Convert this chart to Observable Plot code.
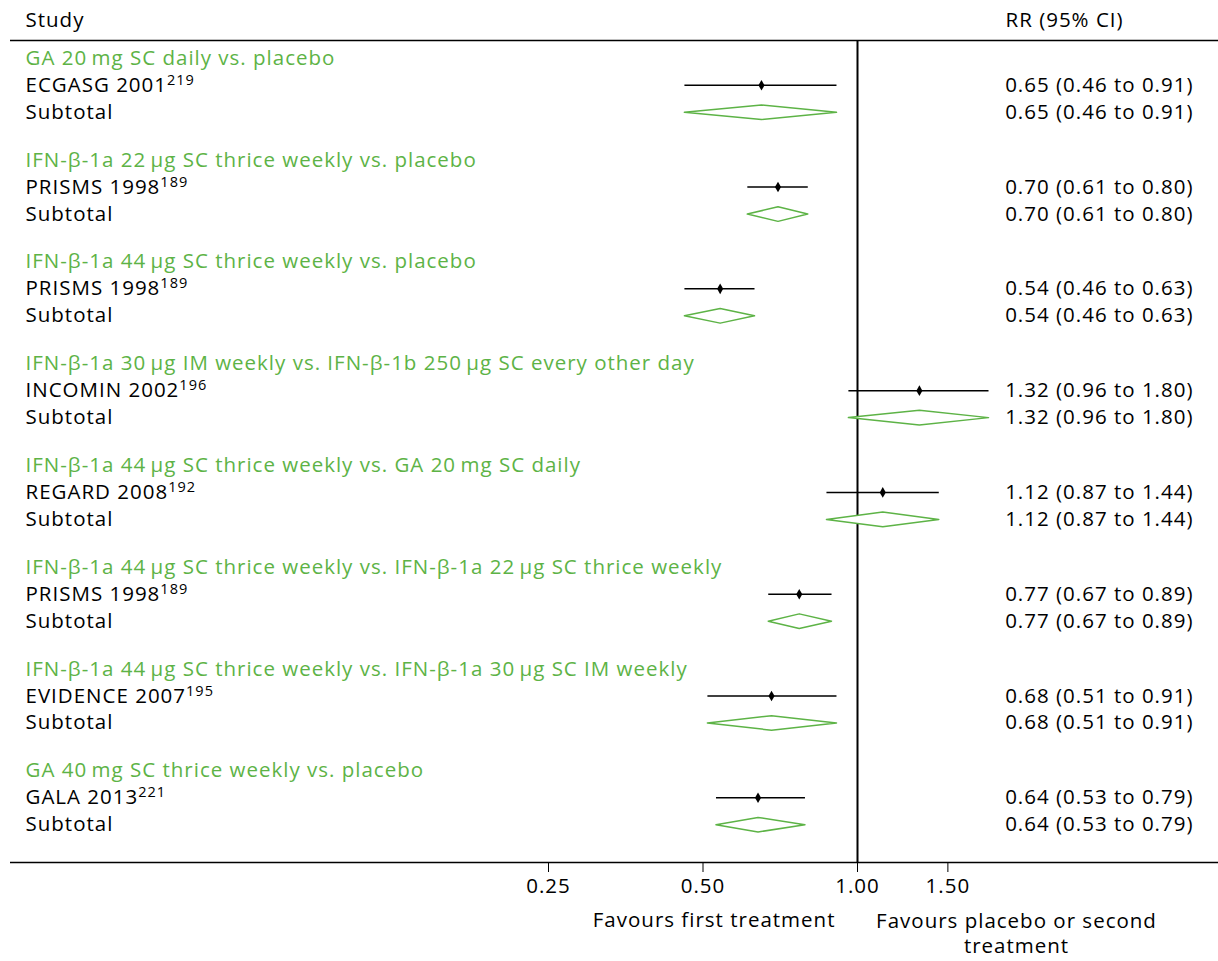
<!DOCTYPE html>
<html><head><meta charset="utf-8">
<script src="https://cdn.jsdelivr.net/npm/d3@7"></script>
<script src="https://cdn.jsdelivr.net/npm/@observablehq/plot@0.6"></script>
<style>
body{margin:0;background:#fff}
#chart svg{display:block}
</style>
</head><body><div id="chart"></div>
<script>
const comparisons = [
  "GA 20\u2009mg SC daily vs. placebo",
  "IFN-\u03b2-1a 22\u2009\u00b5g SC thrice weekly vs. placebo",
  "IFN-\u03b2-1a 44\u2009\u00b5g SC thrice weekly vs. placebo",
  "IFN-\u03b2-1a 30\u2009\u00b5g IM weekly vs. IFN-\u03b2-1b 250\u2009\u00b5g SC every other day",
  "IFN-\u03b2-1a 44\u2009\u00b5g SC thrice weekly vs. GA 20\u2009mg SC daily",
  "IFN-\u03b2-1a 44\u2009\u00b5g SC thrice weekly vs. IFN-\u03b2-1a 22\u2009\u00b5g SC thrice weekly",
  "IFN-\u03b2-1a 44\u2009\u00b5g SC thrice weekly vs. IFN-\u03b2-1a 30\u2009\u00b5g SC IM weekly",
  "GA 40\u2009mg SC thrice weekly vs. placebo"
];
const studies = ["ECGASG 2001","PRISMS 1998","PRISMS 1998","INCOMIN 2002","REGARD 2008","PRISMS 1998","EVIDENCE 2007","GALA 2013"];
const refs = ["219","189","189","196","192","189","195","221"];
const rr = [0.65,0.70,0.54,1.32,1.12,0.77,0.68,0.64];
const lower = [0.46,0.61,0.46,0.96,0.87,0.67,0.51,0.53];
const upper = [0.91,0.80,0.63,1.80,1.44,0.89,0.91,0.79];
const xTicks = [0.25,0.50,1.00,1.50];

const GREEN = "#5db346";
const FONT = "'Open Sans', sans-serif";
const FS = 20.5;

// Row layout (row units)
const PERIOD = 3.77;
const yTop = -0.66, yBottom = 29.79;

const labelRows = comparisons.map((c, g) => ({text: c, y: g * PERIOD}));
const studyRows = studies.map((s, g) => ({text: s + "^" + refs[g], y: g * PERIOD + 1, rr: rr[g], lo: lower[g], hi: upper[g]}));
const subRows = studies.map((s, g) => ({text: "Subtotal", y: g * PERIOD + 2, rr: rr[g], lo: lower[g], hi: upper[g]}));
const fmt = d3.format(".2f");
const ciText = d => `${fmt(d.rr)} (${fmt(d.lo)} to ${fmt(d.hi)})`;

const H = 0.27;
const diamonds = subRows.flatMap((d, g) => [
  {g, x: d.lo, y: d.y}, {g, x: d.rr, y: d.y - H}, {g, x: d.hi, y: d.y},
  {g, x: d.rr, y: d.y + H}, {g, x: d.lo, y: d.y}
]);

const plot = Plot.plot({
  width: 1218, height: 961,
  marginTop: 40, marginBottom: 99, marginLeft: 10, marginRight: 0,
  style: {fontFamily: FONT, fontSize: FS + "px", letterSpacing: "1px", color: "#000", background: "#fff"},
  x: {type: "log", domain: [0.25, 2], range: [548, 1011.5], ticks: xTicks, tickFormat: fmt, tickSize: 10, tickPadding: 6, label: null},
  y: {domain: [yTop, yBottom], range: [40, 862], axis: null},
  marks: [
    Plot.ruleY([yTop, yBottom], {stroke: "#000", strokeWidth: 1.5}),
    Plot.ruleX([1], {stroke: "#000", strokeWidth: 2}),
    Plot.link(studyRows, {x1: "lo", x2: "hi", y1: "y", y2: "y", stroke: "#000", strokeWidth: 1.5}),
    Plot.dot(studyRows, {x: "rr", y: "y", symbol: "diamond", r: 3.2, fill: "#000"}),
    Plot.line(diamonds, {x: "x", y: "y", z: "g", stroke: GREEN, strokeWidth: 1.5, fill: "#fff"}),
    Plot.text(labelRows, {y: "y", text: "text", frameAnchor: "left", dx: 15, textAnchor: "start", fill: GREEN}),
    Plot.text(studyRows, {y: "y", text: "text", frameAnchor: "left", dx: 15, textAnchor: "start", fill: "#000"}),
    Plot.text(subRows, {y: "y", text: "text", frameAnchor: "left", dx: 15, textAnchor: "start", fill: "#000"}),
    Plot.text(studyRows, {y: "y", text: ciText, frameAnchor: "right", dx: -25, textAnchor: "end", fill: "#000"}),
    Plot.text(subRows, {y: "y", text: ciText, frameAnchor: "right", dx: -25, textAnchor: "end", fill: "#000"}),
    Plot.text(["Study"], {y: yTop, text: d => d, frameAnchor: "left", dx: 15, dy: -20, textAnchor: "start", fill: "#000"}),
    Plot.text(["RR (95% CI)"], {y: yTop, text: d => d, frameAnchor: "right", dx: -213, dy: -20, textAnchor: "start", fill: "#000"}),
    Plot.text(["Favours first treatment"], {x: 1, y: yBottom, text: d => d, dx: -22, dy: 58, textAnchor: "end", fill: "#000"}),
    Plot.text(["Favours placebo or second\ntreatment"], {x: 1, y: yBottom, text: d => d, dx: 159, dy: 69.8, textAnchor: "middle", lineAnchor: "middle", lineHeight: 1.25, fill: "#000"})
  ]
});

// superscript reference numbers
plot.querySelectorAll("text").forEach(t => {
  if (t.children.length === 0 && t.textContent.includes("^")) {
    const [base, sup] = t.textContent.split("^");
    t.textContent = base;
    const ts = document.createElementNS("http://www.w3.org/2000/svg", "tspan");
    ts.setAttribute("dy", "-7");
    ts.setAttribute("font-size", "14.5");
    ts.textContent = sup;
    t.appendChild(ts);
  }
});
document.getElementById("chart").appendChild(plot);
</script>
</body></html>
